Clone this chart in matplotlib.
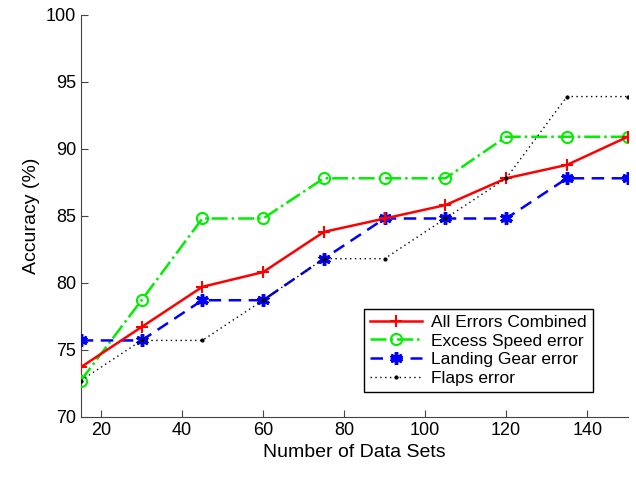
import matplotlib.pyplot as plt

plt.rcParams['font.family'] = ['Liberation Sans', 'DejaVu Sans']

x = [15, 30, 45, 60, 75, 90, 105, 120, 135, 150]
all_errors = [73.7, 76.7, 79.7, 80.8, 83.8, 84.8, 85.8, 87.8, 88.8, 90.9]
excess_speed = [72.7, 78.7, 84.8, 84.8, 87.8, 87.8, 87.8, 90.9, 90.9, 90.9]
landing_gear = [75.7, 75.7, 78.7, 78.7, 81.8, 84.8, 84.8, 84.8, 87.8, 87.8]
flaps = [72.7, 75.7, 75.7, 78.7, 81.8, 81.8, 84.8, 87.8, 93.9, 93.9]

fig = plt.figure(figsize=(6.36, 4.78), dpi=100)
ax = fig.add_axes([0.127, 0.128, 0.860, 0.841])

ax.plot(x, all_errors, color='red', linestyle='-', marker='+', markersize=9,
        markeredgewidth=1.5, linewidth=1.8, label='All Errors Combined', zorder=4)
ax.plot(x, excess_speed, color='#00ee00', linestyle='-.', marker='o', markersize=8,
        markerfacecolor='none', markeredgewidth=1.5, linewidth=1.8,
        label='Excess Speed error', zorder=3)
ax.plot(x, landing_gear, color='blue', linestyle=(0, (5, 3)), marker=(6, 2, 0),
        markersize=9, markeredgewidth=2.5, linewidth=1.8,
        label='Landing Gear error', zorder=3)
ax.plot(x, flaps, color='black', linestyle=(0, (1, 2.5)), marker='.', markersize=4,
        linewidth=1.0, label='Flaps error', zorder=5)

ax.set_xlim(15, 150)
ax.set_ylim(70, 100)
ax.set_xticks([20, 40, 60, 80, 100, 120, 140])
ax.set_yticks([70, 75, 80, 85, 90, 95, 100])
ax.tick_params(direction='in', labelsize=13, length=5, color='#444444')
ax.spines['top'].set_visible(False)
ax.spines['right'].set_visible(False)
ax.spines['left'].set_color('#444444')
ax.spines['bottom'].set_color('#444444')
ax.set_xlabel('Number of Data Sets', fontsize=14)
ax.set_ylabel('Accuracy (%)', fontsize=14)

leg = ax.legend(loc='lower right', bbox_to_anchor=(0.936, 0.062), borderaxespad=0,
                fontsize=12.5, fancybox=False, edgecolor='black', framealpha=1,
                handlelength=3, borderpad=0.35, labelspacing=0.2, handletextpad=0.5)
leg.get_frame().set_linewidth(1.0)

fig.savefig('out.png', dpi=100)
